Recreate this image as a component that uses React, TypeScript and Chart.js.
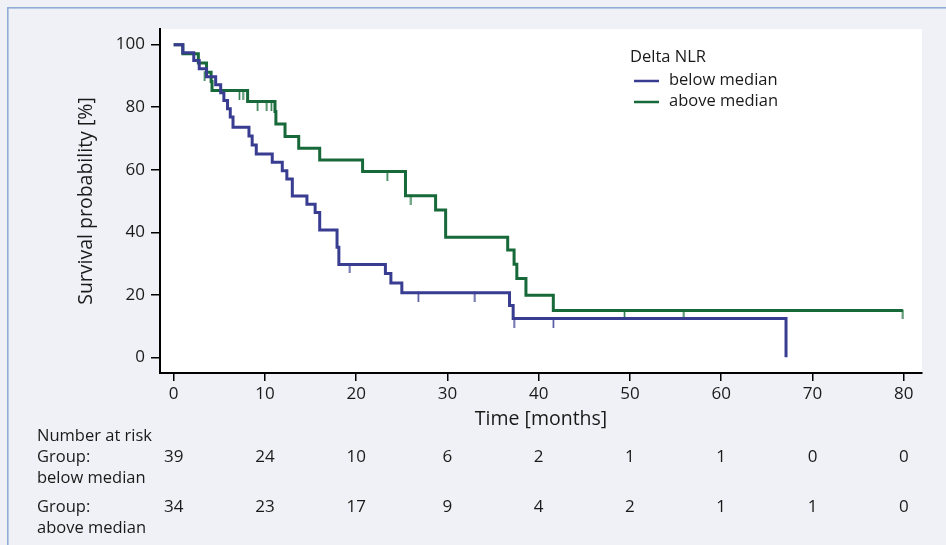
import React, { useEffect, useRef } from "react";
import { Chart, registerables } from "chart.js";

Chart.register(...registerables);

// ---- data ----
const timeTicks = [0, 10, 20, 30, 40, 50, 60, 70, 80];
const survTicks = [0, 20, 40, 60, 80, 100];

const groupLabels = ["below median", "above median"];
const legendTitle = "Delta NLR";

// Kaplan-Meier steps: time of event, survival after the event
const belowTimes = [0, 1.0, 2.2, 2.8, 3.6, 4.6, 5.15, 5.5, 5.9, 6.2, 6.5, 8.25, 8.6, 9.05, 10.8, 11.9, 12.4, 13.0, 14.6, 15.5, 16.0, 17.9, 18.1, 23.2, 23.8, 25.0, 36.8, 37.2, 67.1];
const belowSurv = [100, 97.4, 94.9, 92.3, 89.7, 87.2, 84.6, 82.1, 79.5, 76.9, 73.6, 70.8, 67.9, 65.0, 62.4, 59.7, 57.0, 51.6, 49.0, 46.3, 40.7, 35.2, 29.7, 26.8, 23.8, 20.7, 16.6, 12.4, 0];
const belowCensorTimes = [19.3, 26.8, 33.0, 37.3, 41.6];
const belowCensorSurv = [29.7, 20.7, 20.7, 12.4, 12.4];

const aboveTimes = [0, 1.0, 2.7, 3.6, 4.1, 4.2, 8.1, 11.1, 11.2, 12.2, 13.7, 16.0, 20.7, 25.4, 28.7, 29.8, 36.6, 37.3, 37.6, 38.6, 41.6, 79.9];
const aboveSurv = [100, 97.1, 94.1, 91.2, 88.2, 85.3, 81.8, 78.6, 74.6, 70.6, 66.9, 63.1, 59.4, 51.7, 47.1, 38.4, 34.3, 29.8, 25.2, 19.9, 15.0, 15.0];
const aboveCensorTimes = [3.4, 7.2, 7.6, 9.2, 10.2, 10.7, 23.4, 26.0, 49.4, 55.9, 79.9];
const aboveCensorSurv = [91.2, 85.3, 85.3, 81.8, 81.8, 81.8, 59.4, 51.7, 15.0, 15.0, 15.0];

const riskTitle = "Number at risk";
const riskRowLabels = [["Group:", "below median"], ["Group:", "above median"]];
const riskBelow = [39, 24, 10, 6, 2, 1, 1, 0, 0];
const riskAbove = [34, 23, 17, 9, 4, 2, 1, 1, 0];

const BLUE = "#393d91";
const GREEN = "#17693a";
const FONT = "'Open Sans', 'Noto Sans', sans-serif";

function censorMark(color: string): HTMLCanvasElement {
  const c = document.createElement("canvas");
  c.width = 3;
  c.height = 18;
  const ctx = c.getContext("2d")!;
  ctx.strokeStyle = color;
  ctx.lineWidth = 1.6;
  ctx.beginPath();
  ctx.moveTo(1.5, 8);
  ctx.lineTo(1.5, 18);
  ctx.stroke();
  return c;
}

export default function App() {
  const ref = useRef<HTMLCanvasElement | null>(null);

  useEffect(() => {
    if (!ref.current) return;
    const bgPlugin = {
      id: "bgPlugin",
      beforeDraw(chart: any) {
        const { ctx, chartArea } = chart;
        ctx.save();
        ctx.fillStyle = "#f0f1f6";
        ctx.fillRect(0, 0, chart.width, chart.height);
        ctx.fillStyle = "#8fadd6";
        ctx.fillRect(7, 7, chart.width - 7, 1.6);
        ctx.fillRect(7, 7, 1.6, chart.height - 7);
        ctx.fillStyle = "#ffffff";
        ctx.fillRect(chartArea.left, chartArea.top, chartArea.right - chartArea.left, chartArea.bottom - chartArea.top);
        ctx.restore();
      },
      afterDraw(chart: any) {
        const { ctx } = chart;
        const xs = chart.scales.x;
        ctx.save();
        ctx.fillStyle = "#1a1a1a";
        ctx.font = `16.5px ${FONT}`;
        ctx.textBaseline = "middle";
        // legend
        ctx.textAlign = "left";
        ctx.fillText(legendTitle, 630, 57);
        const colors = [BLUE, GREEN];
        const ly = [81, 102];
        for (let i = 0; i < 2; i++) {
          ctx.strokeStyle = colors[i];
          ctx.lineWidth = 2.5;
          ctx.beginPath();
          ctx.moveTo(634, ly[i]);
          ctx.lineTo(659, ly[i]);
          ctx.stroke();
          ctx.fillText(groupLabels[i], 669, ly[i] - 1);
        }
        // risk table
        ctx.fillText(riskTitle, 37, 436);
        ctx.fillText(riskRowLabels[0][0], 37, 457);
        ctx.fillText(riskRowLabels[0][1], 37, 478);
        ctx.fillText(riskRowLabels[1][0], 37, 507);
        ctx.fillText(riskRowLabels[1][1], 37, 528);
        ctx.textAlign = "center";
        ctx.font = `17px ${FONT}`;
        timeTicks.forEach((t, i) => {
          const px = xs.getPixelForValue(t);
          ctx.fillText(String(riskBelow[i]), px, 457);
          ctx.fillText(String(riskAbove[i]), px, 507);
        });
        ctx.restore();
      },
    };

    const chart = new Chart(ref.current, {
      type: "line",
      data: {
        datasets: [
          {
            label: groupLabels[0],
            data: belowTimes.map((t, i) => ({ x: t, y: belowSurv[i] })),
            borderColor: BLUE,
            borderWidth: 3,
            stepped: "before",
            pointRadius: 0,
            fill: false,
          },
          {
            label: groupLabels[1],
            data: aboveTimes.map((t, i) => ({ x: t, y: aboveSurv[i] })),
            borderColor: GREEN,
            borderWidth: 3,
            stepped: "before",
            pointRadius: 0,
            fill: false,
          },
          {
            label: "censored below",
            data: belowCensorTimes.map((t, i) => ({ x: t, y: belowCensorSurv[i] })),
            showLine: false,
            pointStyle: censorMark("#4a4e9c") as any,
            pointRadius: 3,
          },
          {
            label: "censored above",
            data: aboveCensorTimes.map((t, i) => ({ x: t, y: aboveCensorSurv[i] })),
            showLine: false,
            pointStyle: censorMark("#2a7a48") as any,
            pointRadius: 3,
          },
        ],
      },
      options: {
        animation: false,
        responsive: false,
        devicePixelRatio: 1,
        layout: { padding: { top: 29, right: 24, left: 0, bottom: 0 } },
        plugins: { legend: { display: false }, tooltip: { enabled: false } },
        scales: {
          x: {
            type: "linear",
            min: -1.5,
            max: 82,
            afterFit: (s: any) => {
              s.height = 172;
            },
            afterBuildTicks: (s: any) => {
              s.ticks = timeTicks.map((v) => ({ value: v }));
            },
            ticks: { color: "#1a1a1a", font: { family: FONT, size: 17 }, padding: 3, autoSkip: false, maxRotation: 0 },
            grid: { display: true, drawOnChartArea: false, drawTicks: true, tickLength: 8, color: "#000", lineWidth: 1.5 },
            border: { display: true, color: "#000", width: 2 },
            title: { display: true, text: "Time [months]", color: "#1a1a1a", font: { family: FONT, size: 19.5 }, padding: { top: 0, bottom: 114 } },
          },
          y: {
            type: "linear",
            min: -5,
            max: 105,
            afterFit: (s: any) => {
              s.width = 160;
            },
            afterBuildTicks: (s: any) => {
              s.ticks = survTicks.map((v) => ({ value: v }));
            },
            ticks: { color: "#1a1a1a", font: { family: FONT, size: 17 }, padding: 6 },
            grid: { display: true, drawOnChartArea: false, drawTicks: true, tickLength: 9, color: "#000", lineWidth: 1.5 },
            border: { display: true, color: "#000", width: 2 },
            title: { display: true, text: "Survival probability [%]", color: "#1a1a1a", font: { family: FONT, size: 19.5 }, padding: { top: 75, bottom: 0 } },
          },
        },
      },
      plugins: [bgPlugin],
    });
    return () => chart.destroy();
  }, []);

  return (
    <div style={{ position: "fixed", left: 0, top: 0, width: 946, height: 545 }}>
      <canvas ref={ref} width={946} height={545} style={{ width: 946, height: 545, display: "block" }} />
    </div>
  );
}
